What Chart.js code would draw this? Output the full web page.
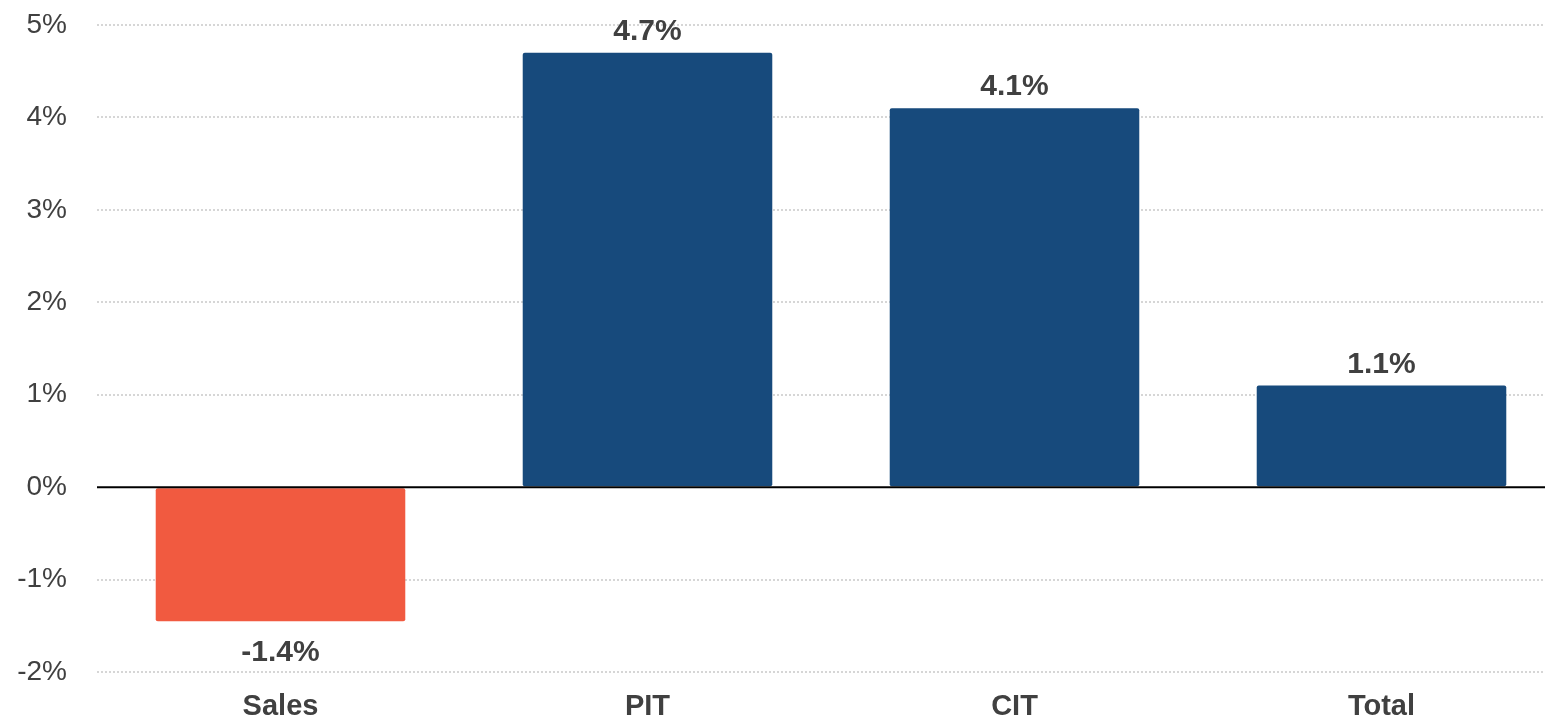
<!DOCTYPE html>
<html>
<head>
<meta charset="utf-8">
<script src="https://cdn.jsdelivr.net/npm/chart.js@4/dist/chart.umd.min.js"></script>
<style>
  html, body { margin: 0; padding: 0; background: #fff; overflow: hidden; }
  #wrap { width: 1545px; height: 720px; overflow: hidden; }
  #box { width: 1565px; height: 720px; position: relative; }
</style>
</head>
<body>
<div id="wrap"><div id="box"><canvas id="myChart"></canvas></div></div>
<script>
const categories = ['Sales', 'PIT', 'CIT', 'Total'];
const values = [-1.45, 4.7, 4.1, 1.1];
const valueLabels = ['-1.4%', '4.7%', '4.1%', '1.1%'];
const yTicks = [-2, -1, 0, 1, 2, 3, 4, 5];

const textColor = '#404040';
const fontFamily = '"Liberation Sans", Arial, sans-serif';

// value labels above/below each bar + zero line on top of the bars
const barLabels = {
  id: 'barLabels',
  afterDatasetsDraw(chart) {
    const ctx = chart.ctx;
    const meta = chart.getDatasetMeta(0);
    const y = chart.scales.y;
    const area = chart.chartArea;

    ctx.save();
    ctx.strokeStyle = '#000';
    ctx.lineWidth = 2;
    ctx.beginPath();
    ctx.moveTo(area.left, y.getPixelForValue(0));
    ctx.lineTo(area.right, y.getPixelForValue(0));
    ctx.stroke();

    ctx.font = 'bold 30px ' + fontFamily;
    ctx.fillStyle = textColor;
    ctx.textAlign = 'center';
    ctx.textBaseline = 'middle';
    meta.data.forEach((bar, i) => {
      if (values[i] >= 0) {
        ctx.fillText(valueLabels[i], bar.x, bar.y - 21);
      } else {
        ctx.fillText(valueLabels[i], bar.x, bar.y + 32);
      }
    });
    ctx.restore();
  }
};

new Chart(document.getElementById('myChart'), {
  type: 'bar',
  data: {
    labels: categories,
    datasets: [{
      data: values,
      backgroundColor: values.map(v => v < 0 ? '#F15A40' : '#174A7C'),
      borderRadius: 2,
      borderSkipped: false,
      barPercentage: 0.68,
      categoryPercentage: 1
    }]
  },
  options: {
    responsive: true,
    maintainAspectRatio: false,
    animation: false,
    layout: { padding: { top: 25, right: 0, bottom: 0, left: 0 } },
    plugins: {
      legend: { display: false },
      tooltip: { enabled: false }
    },
    scales: {
      x: {
        grid: { display: false, drawTicks: false },
        border: { display: false },
        ticks: {
          color: textColor,
          padding: 18,
          font: { family: fontFamily, size: 29, weight: 'bold' }
        },
        afterFit(scale) { scale.height = 48; }
      },
      y: {
        min: -2,
        max: 5,
        afterBuildTicks(scale) { scale.ticks = yTicks.map(v => ({ value: v })); },
        grid: {
          drawTicks: false,
          color: c => c.tick && c.tick.value === 0 ? 'rgba(0,0,0,0)' : '#d6d6d6',
          lineWidth: 2
        },
        border: { display: false, dash: [2, 2] },
        ticks: {
          color: textColor,
          padding: 30,
          font: { family: fontFamily, size: 28 },
          callback: v => v + '%'
        },
        afterFit(scale) {
          scale.width = 97;
          scale.paddingTop = 0;
          scale.paddingBottom = 0;
        }
      }
    }
  },
  plugins: [barLabels]
});
</script>
</body>
</html>
